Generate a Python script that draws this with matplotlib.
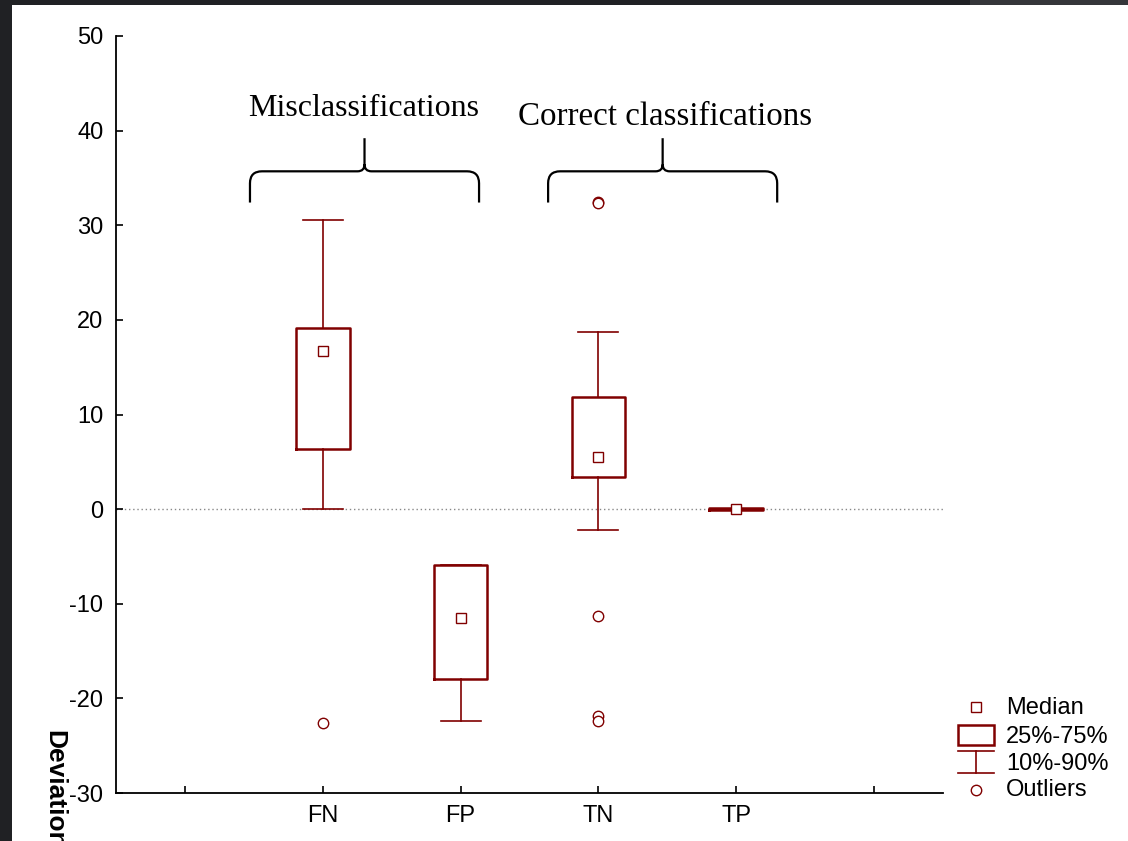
import matplotlib
matplotlib.use("Agg")
import matplotlib.pyplot as plt
import numpy as np
from matplotlib.path import Path
from matplotlib.patches import PathPatch, Rectangle

# values
groups = ["FN", "FP", "TN", "TP"]
medians = [16.7, -11.5, 5.5, 0.0]
q25 = [6.4, -17.9, 3.4, -0.1]
q75 = [19.1, -5.9, 11.8, 0.1]
p10 = [0.0, -22.4, -2.2, 0.0]
p90 = [30.6, -5.9, 18.7, 0.0]
outliers = [[-22.6], [], [32.5, 32.3, -11.3, -21.9, -22.4], []]
tick_labels = ["", "FN", "FP", "TN", "TP", ""]

red = "#800000"
plt.rcParams["font.family"] = ["Liberation Sans", "DejaVu Sans"]
plt.rcParams["axes.unicode_minus"] = False

fig = plt.figure(figsize=(11.28, 8.41), dpi=100, facecolor="#202124")
# white page inside the dark frame
fig.patches.append(Rectangle((12/1128, 0), 1, (841-5)/841, transform=fig.transFigure,
                             facecolor="white", edgecolor="none", zorder=-10))
fig.patches.append(Rectangle((970/1128, (841-5)/841), 1, 5/841, transform=fig.transFigure,
                             facecolor="#35363a", edgecolor="none", zorder=-10))

ax = fig.add_axes([116/1128, 1-793/841, (943-116)/1128, (793-36)/841])
ax.set_facecolor("none")

pos = np.arange(1, len(groups)+1)
stats = []
for i in range(len(groups)):
    stats.append(dict(med=medians[i], q1=q25[i], q3=q75[i],
                      whislo=p10[i], whishi=p90[i], fliers=outliers[i]))

ax.bxp(stats, positions=pos, widths=0.39, capwidths=0.29, showfliers=True,
       boxprops=dict(color=red, lw=1.8),
       whiskerprops=dict(color=red, lw=1.2),
       capprops=dict(color=red, lw=1.2),
       medianprops=dict(visible=False),
       flierprops=dict(marker="o", mfc="white", mec=red, ms=7.5, mew=1.0))
ax.plot(pos, medians, ls="none", marker="s", mfc="white", mec=red, ms=7.5, mew=1.0, zorder=5)

ax.axhline(0, color="#888888", ls=(0, (1, 2)), lw=1.0, zorder=0)

ax.set_xlim(-0.5, 5.5)
ax.set_ylim(-30, 50)
ax.set_xticks(np.arange(len(tick_labels)))
ax.set_xticklabels(tick_labels)
ax.set_yticks(np.arange(-30, 51, 10))
ax.tick_params(axis="both", direction="in", length=5, width=1.2, labelsize=17, pad=9)
for s in ["top", "right"]:
    ax.spines[s].set_visible(False)
for s in ["left", "bottom"]:
    ax.spines[s].set_linewidth(1.3)

# curly braces over the two groups
sx, sy = 137.8, 9.46   # pixels per data unit


def brace(x0, x1, ybot, yh, ytip):
    xm = (x0 + x1) / 2
    rex, rey = 12/sx, 12/sy
    rcx, rcy = 7/sx, 7/sy
    verts = [(x0, ybot), (x0, yh-rey), (x0, yh), (x0+rex, yh), (xm-rcx, yh),
             (xm, yh), (xm, yh+rcy), (xm, ytip),
             (xm, yh+rcy), (xm, yh), (xm+rcx, yh), (x1-rex, yh),
             (x1, yh), (x1, yh-rey), (x1, ybot)]
    codes = [Path.MOVETO, Path.LINETO, Path.CURVE3, Path.CURVE3, Path.LINETO,
             Path.CURVE3, Path.CURVE3, Path.LINETO,
             Path.MOVETO, Path.CURVE3, Path.CURVE3, Path.LINETO,
             Path.CURVE3, Path.CURVE3, Path.LINETO]
    ax.add_patch(PathPatch(Path(verts, codes), facecolor="none", edgecolor="black",
                           lw=1.6, clip_on=False))


brace(0.472, 2.134, 32.4, 35.7, 39.2)
brace(2.635, 4.297, 32.4, 35.7, 39.2)
ax.text(1.30, 42.3, "Misclassifications", ha="center", va="center",
        family=["Liberation Serif", "DejaVu Serif"], fontsize=23)
ax.text(3.48, 41.5, "Correct classifications", ha="center", va="center",
        family=["Liberation Serif", "DejaVu Serif"], fontsize=23.8)

fig.text(54/1128, 1-730/841, "Deviation", rotation=270, ha="center", va="top",
         fontsize=19, fontweight="bold")

# legend drawn in pixel coordinates
lg = fig.add_axes([0, 0, 1, 1])
lg.set_xlim(0, 1128)
lg.set_ylim(841, 0)
lg.axis("off")
lg.set_facecolor("none")
lg.plot([976], [707], ls="none", marker="s", mfc="white", mec=red, ms=7.5, mew=1.0)
lg.add_patch(Rectangle((958, 725), 36, 20, facecolor="none", edgecolor=red, lw=1.8))
lg.plot([958, 994], [751, 751], color=red, lw=1.2)
lg.plot([958, 994], [773, 773], color=red, lw=1.2)
lg.plot([976, 976], [751, 773], color=red, lw=1.2)
lg.plot([976], [790], ls="none", marker="o", mfc="white", mec=red, ms=7.5, mew=1.0)
for ty, t in zip([708, 737, 764, 790], ["Median", "25%-75%", "10%-90%", "Outliers"]):
    lg.text(1006, ty, t, ha="left", va="center", fontsize=17)

fig.savefig("out.png", dpi=100, facecolor=fig.get_facecolor())
